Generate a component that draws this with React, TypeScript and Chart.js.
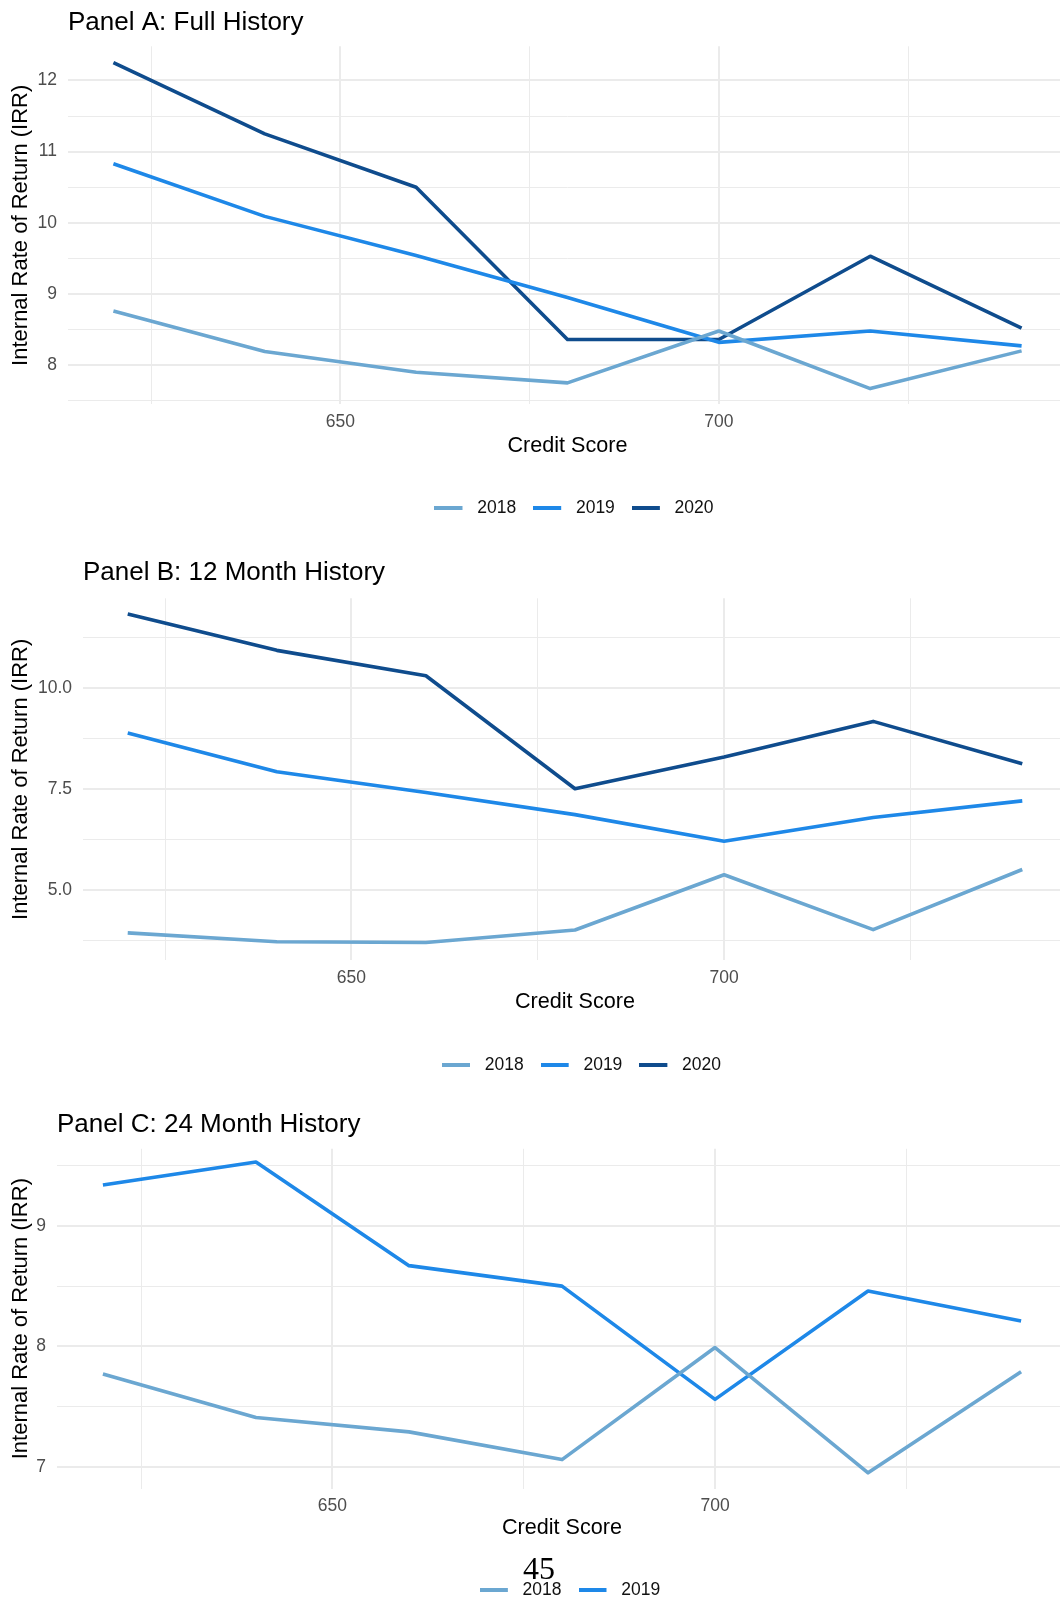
import React, { useEffect, useRef } from "react";
import { Chart, registerables } from "chart.js";

Chart.register(...registerables);

// ---------- data ----------
const creditScores = [620, 640, 660, 680, 700, 720, 740];
const yearLabels = ["2018", "2019", "2020"];
const yearColors = ["#6BA7D1", "#1E88E8", "#0F4C8D"];

const panelA2018 = [8.76, 8.19, 7.9, 7.75, 8.48, 7.67, 8.2];
const panelA2019 = [10.83, 10.09, 9.54, 8.95, 8.32, 8.48, 8.27];
const panelA2020 = [12.25, 11.25, 10.5, 8.36, 8.36, 9.53, 8.52];

const panelB2018 = [3.94, 3.72, 3.7, 4.01, 5.38, 4.02, 5.51];
const panelB2019 = [8.89, 7.93, 7.42, 6.87, 6.21, 6.8, 7.21];
const panelB2020 = [11.84, 10.94, 10.31, 7.51, 8.3, 9.18, 8.13];

const panelC2018 = [7.77, 7.41, 7.29, 7.06, 7.99, 6.95, 7.79];
const panelC2019 = [9.34, 9.53, 8.67, 8.5, 7.56, 8.46, 8.21];

const xGridTicks = [625, 650, 675, 700, 725];
const xLabelTicks = [650, 700];
const xRange = [614, 746];

const yGridTicksA = [7.5, 8, 8.5, 9, 9.5, 10, 10.5, 11, 11.5, 12];
const yLabelTicksA = [8, 9, 10, 11, 12];
const yRangeA = [7.45, 12.48];

const yGridTicksB = [3.75, 5, 6.25, 7.5, 8.75, 10, 11.25];
const yLabelTicksB = [5, 7.5, 10];
const yRangeB = [3.26, 12.23];

const yGridTicksC = [7, 7.5, 8, 8.5, 9, 9.5];
const yLabelTicksC = [7, 8, 9];
const yRangeC = [6.82, 9.64];

const titleA = "Panel A: Full History";
const titleB = "Panel B: 12 Month History";
const titleC = "Panel C: 24 Month History";
const xAxisTitle = "Credit Score";
const yAxisTitle = "Internal Rate of Return (IRR)";
const pageNumber = "45";

// ---------- styling ----------
const FONT = "'Liberation Sans', Arial, Helvetica, sans-serif";
const CANVAS_W = 1067;
const GRID = "#EBEBEB";

type PanelCfg = {
  title: string;
  series: number[][];
  yGrid: number[];
  yLabels: number[];
  yRange: number[];
  decimals: number;
  top: number;
  height: number;
  left: number;
  titlePadBottom: number;
  xAxisH: number;
  xTitlePad: number;
  legendDx: number;
};

const panels: PanelCfg[] = [
  {
    title: titleA,
    series: [panelA2018, panelA2019, panelA2020],
    yGrid: yGridTicksA,
    yLabels: yLabelTicksA,
    yRange: yRangeA,
    decimals: 0,
    top: 0,
    height: 527,
    left: 68,
    titlePadBottom: 7.9,
    xAxisH: 78.25,
    xTitlePad: 23.3,
    legendDx: 6.5,
  },
  {
    title: titleB,
    series: [panelB2018, panelB2019, panelB2020],
    yGrid: yGridTicksB,
    yLabels: yLabelTicksB,
    yRange: yRangeB,
    decimals: 1,
    top: 550,
    height: 534,
    left: 83,
    titlePadBottom: 9.9,
    xAxisH: 79.2,
    xTitlePad: 24.7,
    legendDx: 6.5,
  },
  {
    title: titleC,
    series: [panelC2018, panelC2019],
    yGrid: yGridTicksC,
    yLabels: yLabelTicksC,
    yRange: yRangeC,
    decimals: 0,
    top: 1102,
    height: 507,
    left: 57,
    titlePadBottom: 8.4,
    xAxisH: 76,
    xTitlePad: 23.5,
    legendDx: 8,
  },
];

function swatch(color: string): HTMLCanvasElement {
  const c = document.createElement("canvas");
  c.width = 34;
  c.height = 4;
  const g = c.getContext("2d")!;
  g.fillStyle = color;
  g.fillRect(0, 0, 28, 4);
  return c;
}

const legendShift = {
  id: "legendShift",
  afterLayout(chart: any, _args: any, opts: any) {
    const lg = chart.legend;
    if (lg && opts && opts.dx) {
      lg.left += opts.dx;
      lg.right += opts.dx;
    }
  },
};

function Panel({ cfg }: { cfg: PanelCfg }) {
  const ref = useRef<HTMLCanvasElement>(null);
  useEffect(() => {
    const datasets = cfg.series.map((vals, i) => ({
      label: yearLabels[i],
      data: creditScores.map((x, j) => ({ x, y: vals[j] })),
      borderColor: yearColors[i],
      backgroundColor: yearColors[i],
      borderWidth: 3.6,
      pointRadius: 0,
      pointHoverRadius: 0,
      tension: 0,
      fill: false,
      borderJoinStyle: "round" as const,
      borderCapStyle: "butt" as const,
    }));
    const chart = new Chart(ref.current!, {
      type: "line",
      data: { datasets },
      plugins: [legendShift],
      options: {
        responsive: false,
        animation: false,
        events: [],
        layout: { padding: 0, autoPadding: false },
        font: { family: FONT },
        scales: {
          x: {
            type: "linear",
            min: xRange[0],
            max: xRange[1],
            afterBuildTicks: (scale: any) => {
              scale.ticks = xGridTicks.map((v) => ({ value: v }));
            },
            afterFit: (scale: any) => {
              scale.height = cfg.xAxisH;
            },
            border: { display: false },
            grid: {
              color: GRID,
              lineWidth: (ctx: any) =>
                ctx.tick && xLabelTicks.includes(ctx.tick.value) ? 2 : 1,
              drawTicks: false,
            },
            ticks: {
              autoSkip: false,
              maxRotation: 0,
              padding: 7,
              color: "#4D4D4D",
              font: { family: FONT, size: 17.5 },
              callback: (v: any) =>
                xLabelTicks.includes(Number(v)) ? String(v) : "",
            },
            title: {
              display: true,
              text: xAxisTitle,
              color: "#000",
              font: { family: FONT, size: 21.6 },
              padding: { top: 0, bottom: cfg.xTitlePad },
            },
          },
          y: {
            type: "linear",
            min: cfg.yRange[0],
            max: cfg.yRange[1],
            afterBuildTicks: (scale: any) => {
              scale.ticks = cfg.yGrid.map((v) => ({ value: v }));
            },
            afterFit: (scale: any) => {
              scale.width = cfg.left;
            },
            border: { display: false },
            grid: {
              color: GRID,
              lineWidth: (ctx: any) =>
                ctx.tick && cfg.yLabels.includes(ctx.tick.value) ? 2 : 1,
              drawTicks: false,
            },
            ticks: {
              autoSkip: false,
              padding: 11,
              color: "#4D4D4D",
              font: { family: FONT, size: 17.5 },
              callback: (v: any) =>
                cfg.yLabels.includes(Number(v))
                  ? Number(v).toFixed(cfg.decimals)
                  : "",
            },
            title: {
              display: true,
              text: yAxisTitle,
              color: "#000",
              font: { family: FONT, size: 22 },
              padding: { top: 7.3, bottom: 0 },
            },
          },
        },
        plugins: {
          title: {
            display: true,
            text: cfg.title,
            align: "start",
            fullSize: false,
            color: "#000",
            font: { family: FONT, size: 26, weight: "normal" },
            padding: { top: 7.2, bottom: cfg.titlePadBottom },
          },
          legend: {
            display: true,
            position: "bottom",
            fullSize: false,
            align: "center",
            labels: {
              usePointStyle: true,
              pointStyleWidth: 34,
              padding: 17,
              color: "#111",
              font: { family: FONT, size: 17.5 },
              generateLabels: (chart: any) =>
                chart.data.datasets.map((ds: any, i: number) => ({
                  text: ds.label,
                  fillStyle: ds.borderColor,
                  strokeStyle: ds.borderColor,
                  lineWidth: 0,
                  pointStyle: swatch(ds.borderColor),
                  hidden: false,
                  datasetIndex: i,
                  fontColor: "#111",
                })),
            },
          },
          tooltip: { enabled: false },
          legendShift: { dx: cfg.legendDx },
        } as any,
      },
    } as any);
    return () => chart.destroy();
  }, [cfg]);
  return (
    <canvas
      ref={ref}
      width={CANVAS_W}
      height={cfg.height}
      style={{
        position: "absolute",
        left: 0,
        top: cfg.top,
        width: CANVAS_W,
        height: cfg.height,
      }}
    />
  );
}

export default function App() {
  return (
    <div
      style={{
        position: "absolute",
        left: 0,
        top: 0,
        width: 1060,
        height: 1599,
        overflow: "hidden",
        background: "#fff",
      }}
    >
      {panels.map((p, i) => (
        <Panel key={i} cfg={p} />
      ))}
      <div
        style={{
          position: "absolute",
          left: 489,
          top: 1552,
          width: 100,
          textAlign: "center",
          fontFamily: "'Liberation Serif', 'Times New Roman', serif",
          fontSize: 32,
          lineHeight: "32px",
          color: "#000",
        }}
      >
        {pageNumber}
      </div>
    </div>
  );
}
